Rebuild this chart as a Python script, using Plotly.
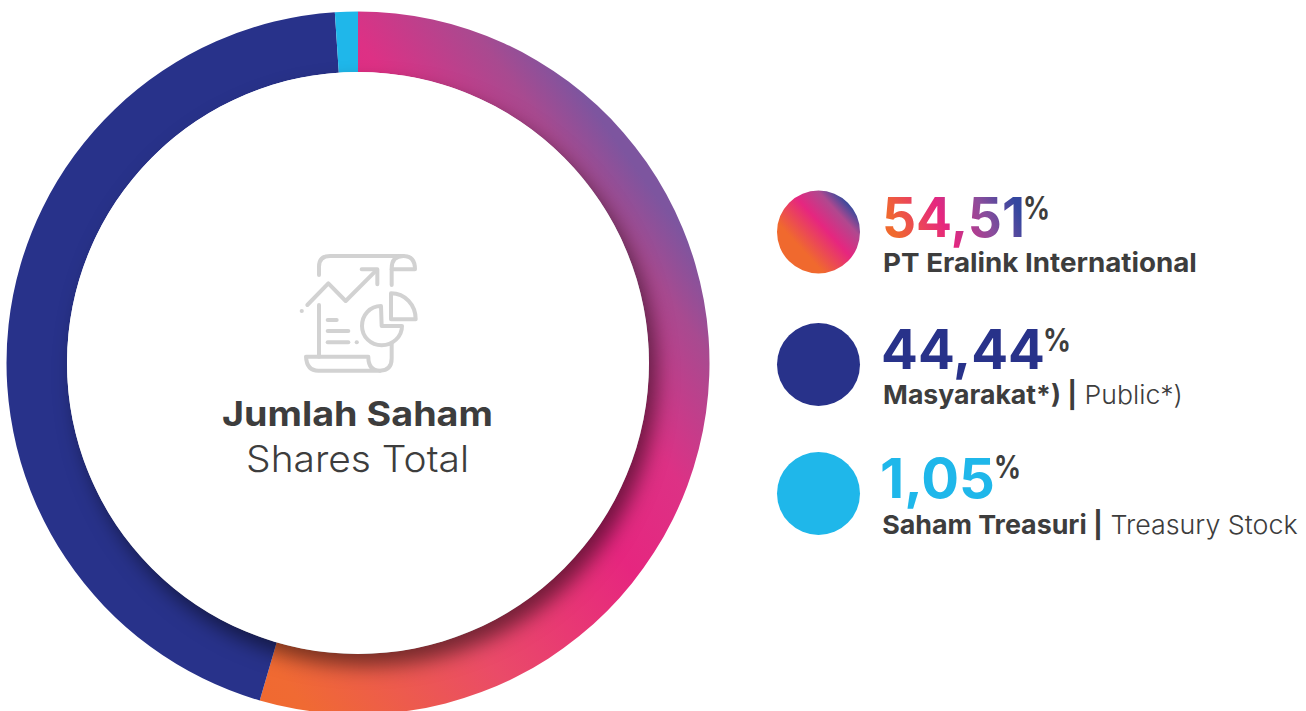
import re
import plotly.graph_objects as go

W, H = 1306, 725
segments = ["PT Eralink International", "Masyarakat*)", "Saham Treasuri"]
shares = [54.51, 44.44, 1.05]
share_labels = ["54,51", "44,44", "1,05"]
sub_labels = ["<b>PT Eralink International</b>", "<b>Masyarakat*) |</b> Public*)", "<b>Saham Treasuri |</b> Treasury Stock"]
NAVY, CYAN, INK = "#28328a", "#1fb7ea", "#3d3d3d"
colors = ["#e6267f", NAVY, CYAN]
FONT = "Inter"

CX, CY, R_OUT, R_IN = 358, 363, 351.5, 291

def fx(x): return x / W
def fy(y): return 1 - y / H

fig = go.Figure(go.Pie(
    labels=segments, values=shares, sort=False, direction="clockwise", rotation=0,
    hole=R_IN / R_OUT, textinfo="none", hoverinfo="skip", showlegend=False,
    marker=dict(colors=colors, line=dict(width=0)),
    domain=dict(x=[fx(CX - R_OUT), fx(CX + R_OUT)], y=[fy(CY + R_OUT), fy(CY - R_OUT)]),
))

shapes = []
# white centre, carries the inner shadow
shapes.append(dict(type="circle", xref="paper", yref="paper", layer="above",
                   x0=fx(CX - R_IN), x1=fx(CX + R_IN), y0=fy(CY + R_IN), y1=fy(CY - R_IN),
                   fillcolor="#ffffff", line=dict(width=0), name="hole"))

# legend discs
disc_y = [232, 364.5, 493.5]
for y, c in zip(disc_y, ["#e6267f", NAVY, CYAN]):
    shapes.append(dict(type="circle", xref="paper", yref="paper", layer="above",
                       x0=fx(777), x1=fx(860), y0=fy(y + 41.5), y1=fy(y - 41.5),
                       fillcolor=c, line=dict(width=0)))

# report icon
ICON = "#d2d2d2"
def ip(d):
    def rep(m):
        return f"{280 + float(m.group(1)) / 3:.2f},{fy(240 + float(m.group(2)) / 3):.5f}"
    out = re.sub(r"(-?[\d.]+),(-?[\d.]+)", rep, d)
    toks = re.sub(r"([MLQCZ])", r" \1 ", out)
    res = []
    for t in toks.split():
        if "," in t:
            a, b = t.split(",")
            res.append(f"{float(a) / W:.5f},{b}")
        else:
            res.append(t)
    return " ".join(res)

icon_paths = [
    "M117,105 L117,80 Q117,48 150,48 L370,48 Q405,48 405,88 L335,88",
    "M335,135 L335,85 Q335,48 370,48",
    "M82,195 L145,130 L197,183 L285,95",
    "M245,88 L292,88 L292,133",
    "M117,195 L117,350",
    "M143,240 L170,240", "M143,273 L205,273", "M143,307 L205,307",
    "M78,350 L265,350 Q265,392 300,392 L115,392 Q80,392 78,350",
    "M300,392 Q335,392 335,355 L335,312",
    "M303,198 C270,198 246,225 246,258 C246,290 272,316 305,316 C338,316 366,290 366,258 L305,258 Z",
    "M333,160 C375,160 407,195 407,238 L333,238 Z",
    "M65,213 L65.5,213", "M230,307 L230.5,307",
]
for d in icon_paths:
    shapes.append(dict(type="path", xref="paper", yref="paper", layer="above", path=ip(d),
                       line=dict(color=ICON, width=4), fillcolor="rgba(0,0,0,0)"))

anns = []
def text(x, y, s, size, color=INK, anchor="left", weight=None):
    f = dict(family=FONT, size=size, color=color)
    if weight:
        f["weight"] = weight
    anns.append(dict(x=fx(x), y=fy(y), xref="paper", yref="paper", text=s, showarrow=False,
                     xanchor=anchor, yanchor="middle", font=f, borderpad=0, borderwidth=0))

# order matters: post-script fits each text to its measured span in the reference
spans = []
text(CX, 413, "<b>Jumlah Saham</b>", 34, anchor="center", weight=300); spans.append([222, 271])
text(CX, 458.5, "Shares Total", 37, anchor="center", weight=300); spans.append([246, 223])

num_y = [217, 349, 478]
sub_y = [262.5, 395, 525]
num_span = [[882, 143], [881, 164], [880, 115]]
pct_span = [[1023, 27], [1043, 28], [994, 27]]
pct_y = [207, 339, 466]
sub_span = [[883, 314], [883, 300], [882, 416]]
num_col = ["#e6267f", NAVY, CYAN]
for i in range(3):
    text(882, num_y[i], f"<b>{share_labels[i]}</b>", 55, color=num_col[i]); spans.append(num_span[i])
    text(pct_span[i][0], pct_y[i], "<b>%</b>", 31); spans.append(pct_span[i])
    text(883, sub_y[i], sub_labels[i], 26, weight=300); spans.append(sub_span[i])

fig.update_layout(width=W, height=H, margin=dict(l=0, r=0, t=0, b=0),
                  paper_bgcolor="#ffffff", plot_bgcolor="#ffffff",
                  shapes=shapes, annotations=anns, showlegend=False)

post = """
document.body.style.margin='0';document.body.style.overflow='hidden';document.documentElement.style.overflow='hidden';
var gd=document.getElementById('{plot_id}');
var NS='http://www.w3.org/2000/svg';
var defs=gd.querySelector('svg.main-svg defs');
function grad(id,attrs,stops){
  var g=document.createElementNS(NS,'linearGradient');g.setAttribute('id',id);
  for(var k in attrs)g.setAttribute(k,attrs[k]);
  stops.forEach(function(s){var e=document.createElementNS(NS,'stop');
    e.setAttribute('offset',s[0]);e.setAttribute('stop-color',s[1]);g.appendChild(e);});
  defs.appendChild(g);
}
var dx=0.81,dy=-0.586,cx=358,cy=363,t0=-340,t1=345;
function st(t){return (t-t0)/(t1-t0);}
grad('ringG',{gradientUnits:'userSpaceOnUse',x1:cx+dx*t0,y1:cy+dy*t0,x2:cx+dx*t1,y2:cy+dy*t1},
 [[st(-300),'#f0692e'],[st(-245),'#f06a33'],[st(-69),'#ea4b68'],[st(100),'#e6267f'],[st(190),'#dd3185'],[st(290),'#a84a90'],[st(340),'#7d559f']]);
grad('discG',{x1:'0.12',y1:'0.85',x2:'0.88',y2:'0.15'},
 [[0.22,'#f0692e'],[0.58,'#e6267f'],[0.82,'#b0488f'],[0.98,'#3a4a9c']]);
grad('numG',{x1:'0',y1:'0.6',x2:'1',y2:'0.4'},
 [[0.06,'#f0692e'],[0.42,'#e6267f'],[0.72,'#8a4d9c'],[0.96,'#34479f']]);
gd.querySelectorAll('.slice path.surface')[0].style.setProperty('fill','url(#ringG)');
var sh=gd.querySelectorAll('.shapelayer path');
Array.prototype.slice.call(sh).filter(function(p){return p.getAttribute('data-index')!==null;}).forEach(function(p){
  var i=+p.getAttribute('data-index');
  if(i===0){p.style.filter='drop-shadow(8px 12px 10px rgba(0,0,0,0.5))';}
  if(i===1){p.style.setProperty('fill','url(#discG)');}
  if(i>=4){p.style.strokeLinecap='round';p.style.strokeLinejoin='round';}
});
var spans=__SPANS__;
gd.querySelectorAll('.annotation').forEach(function(a){
  var i=+a.getAttribute('data-index');var t=a.querySelector('.annotation-text');
  if(t.textContent==='54,51'){t.style.setProperty('fill','url(#numG)');
    t.querySelectorAll('tspan').forEach(function(s){s.style.setProperty('fill','url(#numG)');});}
  var b=t.getBBox(),r=t.getBoundingClientRect();
  var s=spans[i][1]/r.width,off=r.left-b.x;
  var tx=spans[i][0]-off-s*b.x;
  t.setAttribute('transform','matrix('+s+' 0 0 1 '+tx+' 0)');
});
""".replace("__SPANS__", str(spans))
fig.write_html("out.html", post_script=post, config=dict(displayModeBar=False, staticPlot=True))
